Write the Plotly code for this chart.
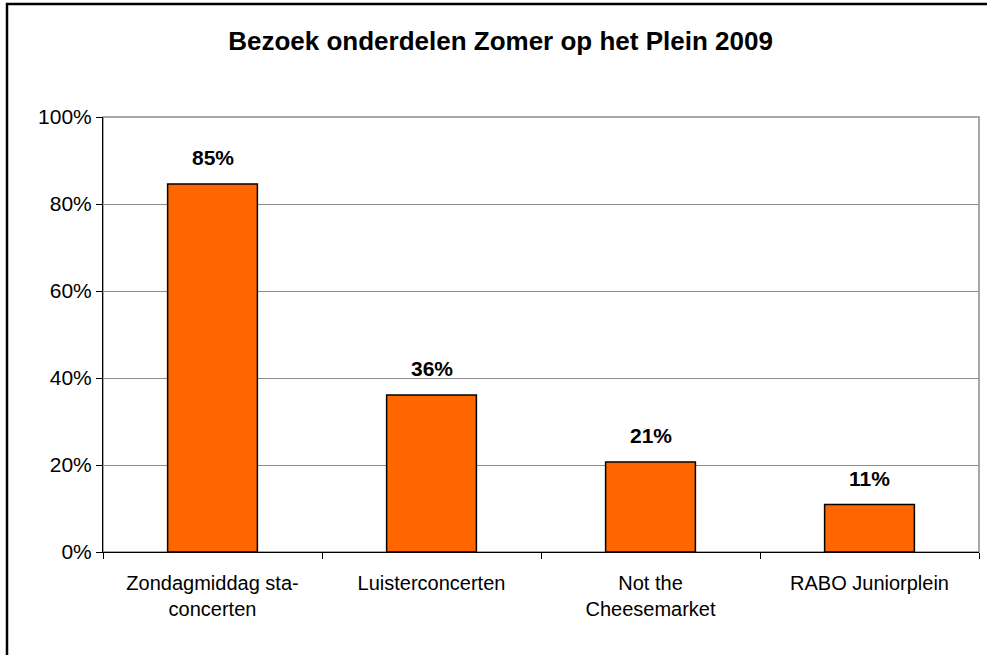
import plotly.graph_objects as go

categories = ["Zondagmiddag sta-<br>concerten", "Luisterconcerten", "Not the<br>Cheesemarket", "RABO Juniorplein"]
values = [0.846, 0.361, 0.207, 0.109]
labels = ["85%", "36%", "21%", "11%"]
y_ticks = [0, 0.2, 0.4, 0.6, 0.8, 1.0]
y_ticklabels = ["0%", "20%", "40%", "60%", "80%", "100%"]

W, H = 987, 655
ml, mr, mt, mb = 103, 8, 117, 103
pw, ph = W - ml - mr, H - mt - mb
FONT = "Liberation Sans, Arial"

fig = go.Figure()
fig.add_trace(go.Bar(
    x=categories, y=values, width=0.41,
    marker=dict(color="#FF6600", line=dict(color="black", width=1.5)),
    hoverinfo="skip",
))

for c, v, t in zip(categories, values, labels):
    fig.add_annotation(x=c, y=v, text="<b>%s</b>" % t, showarrow=False,
                       yanchor="bottom", yshift=13,
                       font=dict(family=FONT, size=21, color="black"))

fig.update_layout(
    width=W, height=H,
    margin=dict(l=ml, r=mr, t=mt, b=mb),
    paper_bgcolor="white", plot_bgcolor="white",
    showlegend=False,
    font=dict(family=FONT, size=20, color="black"),
    title=dict(text="<b>Bezoek onderdelen Zomer op het Plein 2009</b>",
               x=500.5 / W, xanchor="center", y=1 - 41 / H, yanchor="middle",
               font=dict(size=26, family=FONT, color="black")),
    xaxis=dict(showline=True, linecolor="black", linewidth=1,
               ticks="outside", tickson="boundaries", ticklen=6, tickcolor="black",
               showgrid=False, tickfont=dict(size=20), ticklabelstandoff=13),
    yaxis=dict(range=[0, 1], tickvals=y_ticks, ticktext=y_ticklabels,
               showline=True, linecolor="black", linewidth=1,
               ticks="outside", ticklen=6, tickcolor="black",
               showgrid=True, gridcolor="#8c8c8c", gridwidth=1,
               zeroline=False, tickfont=dict(size=21)),
    shapes=[
        dict(type="rect", xref="paper", yref="paper", x0=0, x1=1, y0=0, y1=1,
             line=dict(color="#8c8c8c", width=1.5), layer="below"),
        dict(type="rect", xref="paper", yref="paper",
             x0=(7 - ml) / pw, x1=(W + 10 - ml) / pw,
             y0=-(H + 10 - mt - ph) / ph, y1=(H - mb - 4) / ph,
             line=dict(color="black", width=2.5), layer="above"),
    ],
)

fig.write_html("out.html", config={"displayModeBar": False},
               post_script="document.body.style.margin='0';document.body.style.overflow='hidden';")
